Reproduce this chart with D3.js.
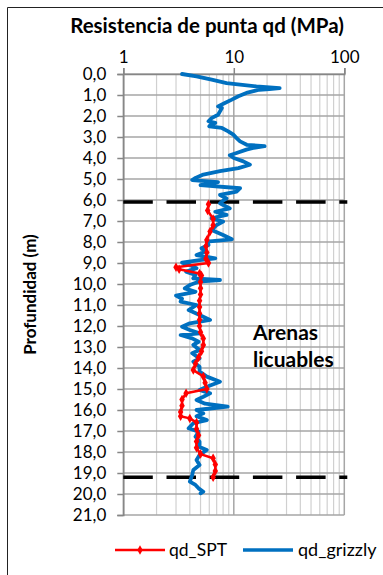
<!DOCTYPE html>
<html>
<head>
<meta charset="utf-8">
<script src="https://cdn.jsdelivr.net/npm/d3@7"></script>
<style>
  body { margin: 0; background: #fff; }
  text { font-family: Lato, "Open Sans", sans-serif; fill: #000; }
</style>
</head>
<body>
<div id="chart"></div>
<script>
// qd_grizzly: depth (m) and tip resistance (MPa)
const grizzlyDepth = [0.00, 0.11, 0.27, 0.43, 0.51, 0.59, 0.67, 0.72, 0.75, 0.90, 1.06, 1.22, 1.38, 1.54, 1.62, 1.78, 1.94, 2.10, 2.25, 2.33, 2.41, 2.49, 2.57, 2.73, 2.89, 3.05, 3.21, 3.37, 3.44, 3.52, 3.60, 3.76, 3.87, 4.00, 4.16, 4.32, 4.48, 4.63, 4.79, 4.95, 5.05, 5.15, 5.29, 5.44, 5.60, 5.76, 5.92, 6.03, 6.16, 6.32, 6.40, 6.56, 6.71, 6.87, 7.03, 7.19, 7.43, 7.67, 7.87, 7.98, 8.14, 8.30, 8.46, 8.62, 8.78, 8.86, 8.98, 9.10, 9.25, 9.41, 9.57, 9.73, 9.81, 9.89, 10.05, 10.21, 10.37, 10.55, 10.70, 10.84, 11.00, 11.24, 11.48, 11.71, 11.87, 12.03, 12.19, 12.35, 12.43, 12.59, 12.75, 12.90, 13.14, 13.30, 13.54, 13.70, 13.94, 14.17, 14.41, 14.65, 14.89, 15.05, 15.21, 15.37, 15.52, 15.70, 15.84, 16.00, 16.16, 16.30, 16.48, 16.63, 16.87, 17.03, 17.27, 17.51, 17.76, 17.90, 18.14, 18.38, 18.62, 18.86, 19.10, 19.41, 19.57, 19.73, 19.89, 19.97];
const grizzlyQd = [3.4, 4.6, 6.3, 8.6, 11.4, 16, 26, 21, 17, 13, 11, 9.6, 8.3, 7.2, 7.8, 7.5, 7.2, 6.3, 5.9, 6.8, 6.2, 6.0, 7.8, 8.9, 9.9, 10.6, 11.4, 13.1, 19, 15, 13, 10.6, 9.2, 10, 12.2, 14, 11, 7.5, 5.3, 4.5, 4.2, 7.2, 5.0, 11.4, 10.6, 7.5, 8.6, 8.0, 7.5, 8.6, 9.2, 6.8, 8.6, 6.3, 8.0, 7.0, 6.3, 8.0, 9.6, 5.7, 5.9, 5.1, 5.5, 4.6, 6.8, 4.9, 3.4, 4.0, 4.6, 3.7, 4.5, 4.3, 7.5, 4.8, 4.0, 3.6, 4.5, 3.0, 3.4, 3.3, 4.6, 3.9, 4.9, 6.1, 4.0, 3.4, 4.0, 4.9, 3.3, 4.2, 4.8, 4.3, 4.9, 4.2, 4.9, 4.3, 4.9, 4.9, 5.7, 7.5, 5.7, 4.9, 6.1, 5.3, 4.6, 5.5, 8.8, 4.6, 5.3, 4.6, 5.7, 4.3, 3.9, 4.8, 4.5, 4.9, 4.9, 5.7, 4.9, 4.6, 4.9, 4.3, 4.2, 4.0, 4.5, 4.8, 5.3, 5.0];

// qd_SPT
const sptDepth = [6.2, 6.5, 6.9, 7.2, 7.5, 7.9, 8.2, 8.5, 8.8, 9.0, 9.2, 9.3, 9.5, 9.6, 9.9, 10.2, 10.5, 10.8, 11.1, 11.4, 11.7, 12.0, 12.3, 12.6, 12.9, 13.2, 13.5, 13.8, 14.1, 14.4, 14.7, 15.0, 15.2, 15.5, 15.8, 16.1, 16.3, 16.4, 16.6, 16.9, 17.2, 17.5, 17.8, 18.1, 18.3, 18.6, 18.9, 19.2];
const sptQd = [5.9, 5.8, 6.5, 6.5, 6.1, 5.7, 5.6, 5.7, 5.6, 5.9, 3.0, 3.2, 4.9, 5.1, 5.0, 5.0, 5.0, 4.9, 4.9, 4.9, 4.9, 4.9, 5.0, 5.3, 5.3, 5.1, 4.8, 4.5, 4.3, 5.3, 5.5, 5.7, 3.7, 3.4, 3.4, 3.3, 3.3, 4.0, 4.6, 4.6, 4.8, 4.6, 4.6, 5.0, 6.5, 6.8, 6.8, 6.5];

// limits of the liquefiable sands layer
const layerLimits = [6.1, 19.2];

const xTicks = [1, 10, 100];
const xMinor = [2, 3, 4, 5, 6, 7, 8, 9, 20, 30, 40, 50, 60, 70, 80, 90];
const depthTicks = d3.range(0, 22);

const W = 383, H = 575;
const svg = d3.select('#chart').append('svg')
    .attr('width', W)
    .attr('height', H);

svg.append('rect').attr('width', W).attr('height', H).attr('fill', '#fff');

// chart frame (cropped on right and bottom)
svg.append('path')
    .attr('d', 'M7.5,575 V7.5 H383')
    .attr('fill', 'none')
    .attr('stroke', '#222')
    .attr('stroke-width', 1);

const x = d3.scaleLog().domain([1, 100]).range([123.3, 344.3]);
const y = d3.scaleLinear().domain([0, 21]).range([74, 515]);

// minor vertical grid
svg.append('g').selectAll('line')
    .data(xMinor)
    .enter().append('line')
    .attr('x1', d => x(d)).attr('x2', d => x(d))
    .attr('y1', y(0)).attr('y2', y(21))
    .attr('stroke', '#d0d0d0')
    .attr('stroke-width', 1.2);

// horizontal grid
svg.append('g').selectAll('line')
    .data(depthTicks)
    .enter().append('line')
    .attr('x1', x(1)).attr('x2', x(100))
    .attr('y1', d => y(d)).attr('y2', d => y(d))
    .attr('stroke', '#a6a6a6')
    .attr('stroke-width', 1.3);

// major vertical grid
svg.append('g').selectAll('line')
    .data(xTicks)
    .enter().append('line')
    .attr('x1', d => x(d)).attr('x2', d => x(d))
    .attr('y1', y(0)).attr('y2', y(21))
    .attr('stroke', '#a6a6a6')
    .attr('stroke-width', 1.5);

// top axis
const xAxis = svg.append('g')
    .attr('transform', `translate(0,${y(0)})`)
    .call(d3.axisTop(x).tickValues(xTicks).tickFormat(d3.format('d')).tickSize(6).tickPadding(5));
xAxis.select('.domain').attr('stroke', '#868686').attr('stroke-width', 1.5);
xAxis.selectAll('.tick line').attr('stroke', '#868686').attr('stroke-width', 1.5);
xAxis.selectAll('.tick text')
    .style('font-family', 'Lato, sans-serif')
    .attr('font-size', 17)
    .attr('fill', '#000');

// left axis
const yAxis = svg.append('g')
    .attr('transform', `translate(${x(1)},0)`)
    .call(d3.axisLeft(y).tickValues(depthTicks).tickFormat(d => d3.format('.1f')(d).replace('.', ',')).tickSize(6).tickPadding(11));
yAxis.select('.domain').attr('stroke', '#868686').attr('stroke-width', 1.5);
yAxis.selectAll('.tick line').attr('stroke', '#868686').attr('stroke-width', 1.5);
yAxis.selectAll('.tick text')
    .style('font-family', 'Lato, sans-serif')
    .attr('font-size', 17)
    .attr('fill', '#000');

// dashed layer limits
svg.append('g').selectAll('line')
    .data(layerLimits)
    .enter().append('line')
    .attr('x1', x(1)).attr('x2', x(100) + 3)
    .attr('y1', d => y(d)).attr('y2', d => y(d))
    .attr('stroke', '#000')
    .attr('stroke-width', 3.5)
    .attr('stroke-dasharray', '29.5,13.7');

// series
const grizzly = grizzlyDepth.map((d, i) => [grizzlyQd[i], d]);
const spt = sptDepth.map((d, i) => [sptQd[i], d]);

const line = d3.line()
    .x(d => x(d[0]))
    .y(d => y(d[1]));

svg.append('path')
    .datum(grizzly)
    .attr('d', line)
    .attr('fill', 'none')
    .attr('stroke', '#0070c0')
    .attr('stroke-width', 3.8)
    .attr('stroke-linejoin', 'round')
    .attr('stroke-linecap', 'round');

svg.append('path')
    .datum(spt)
    .attr('d', line)
    .attr('fill', 'none')
    .attr('stroke', '#ff0000')
    .attr('stroke-width', 2.5)
    .attr('stroke-linejoin', 'round');

const diamond = d3.symbol().type(d3.symbolDiamond).size(26);
svg.append('g').selectAll('path')
    .data(spt)
    .enter().append('path')
    .attr('d', diamond)
    .attr('transform', d => `translate(${x(d[0])},${y(d[1])})`)
    .attr('fill', '#ff0000');

// titles
svg.append('text')
    .attr('x', 207)
    .attr('y', 33)
    .attr('text-anchor', 'middle')
    .attr('font-size', 20.5)
    .attr('font-weight', 'bold')
    .text('Resistencia de punta qd (MPa)');

svg.append('text')
    .attr('transform', `translate(36,${y(10.5)}) rotate(-90)`)
    .attr('text-anchor', 'middle')
    .attr('font-size', 17)
    .attr('font-weight', 'bold')
    .text('Profundidad (m)');

// annotation
svg.append('text').attr('x', 253).attr('y', 340)
    .attr('font-size', 21).attr('font-weight', 'bold').text('Arenas');
svg.append('text').attr('x', 253).attr('y', 367)
    .attr('font-size', 21).attr('font-weight', 'bold').text('licuables');

// legend
const legend = svg.append('g').attr('transform', 'translate(0,550)');
legend.append('line').attr('x1', 115).attr('x2', 165)
    .attr('stroke', '#ff0000').attr('stroke-width', 2.5);
legend.append('path').attr('d', diamond).attr('transform', 'translate(140,0)').attr('fill', '#ff0000');
legend.append('text').attr('x', 169).attr('y', 6).attr('font-size', 17.5).text('qd_SPT');
legend.append('line').attr('x1', 243).attr('x2', 293)
    .attr('stroke', '#0070c0').attr('stroke-width', 3.5);
legend.append('text').attr('x', 298).attr('y', 6).attr('font-size', 18).text('qd_grizzly');
</script>
</body>
</html>
